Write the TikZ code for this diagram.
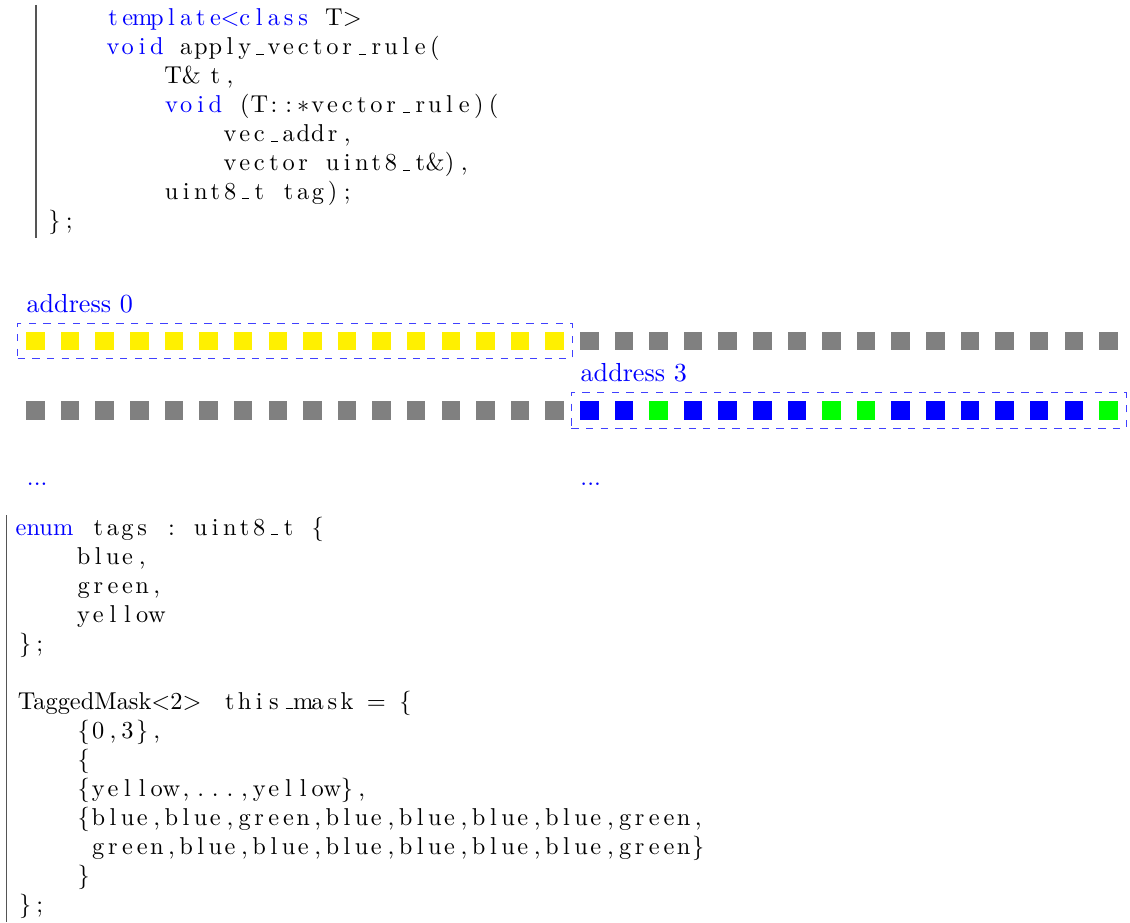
\documentclass[tikz,border=0pt]{standalone}
\usepackage{fontspec}
\usetikzlibrary{fit}

% fixed-column code typesetting: every character sits in a cell of width \cw
\newlength\cw
\setlength\cw{6pt}
\makeatletter
\newcommand\fc[1]{\@tfor\fc@c:=#1\do{\hbox to\cw{\hss\fc@c\hss}}}
\makeatother
\newcommand\cskip[1]{\hskip#1\cw}
\newcommand\nat[2]{\hbox to #1\cw{#2\hss}}
\newcommand\kw[1]{\textcolor{blue}{\fc{#1}}}
% short underscore rule sitting on the baseline
\newcommand\us{\kern.06em\vbox{\hrule width .3em}}

\definecolor{cellyellow}{RGB}{255,240,0}
\definecolor{cellgray}{RGB}{128,128,128}
\definecolor{cellblue}{RGB}{0,0,255}
\definecolor{cellgreen}{RGB}{0,255,0}
\definecolor{barcol}{RGB}{85,85,85}

\tikzset{
  codeline/.style={anchor=base west, inner sep=0pt, outer sep=0pt,
    font=\fontsize{10}{12}\selectfont},
  addrlabel/.style={anchor=base west, inner sep=0pt, text=blue,
    font=\fontsize{10.7}{13}\selectfont},
  dots/.style={anchor=base west, inner sep=0pt, text=blue,
    font=\fontsize{10}{12}\selectfont},
  cell/.style={minimum size=7.6pt, inner sep=0pt, outer sep=0pt, draw=none},
  addrbox/.style={draw=blue!75, dashed, line width=0.4pt, inner sep=3.5pt},
  leftbar/.style={draw=barcol, line width=0.55pt}
}

\begin{document}
\begin{tikzpicture}[x=0.41pt, y=-0.41pt]
\useasboundingbox (0,0) rectangle (1130,922);

% ---------- member function declaration ----------
\coordinate (bar1top) at (36,5);
\coordinate (bar1bot) at (36,238);
\draw[leftbar] (bar1top) -- (bar1bot);

\node[codeline] (d1) at (47.2,26.0)  {\cskip{4}\kw{template<class}\cskip{1}\nat{2}{T>}};
\node[codeline] (d2) at (47.2,54.9)  {\cskip{4}\kw{void}\cskip{1}\fc{apply\us vector\us rule(}};
\node[codeline] (d3) at (47.2,83.8)  {\cskip{8}\nat{2}{T\&}\cskip{1}\fc{t,}};
\node[codeline] (d4) at (47.2,112.7) {\cskip{8}\kw{void}\cskip{1}\fc{(T::{$\ast$}vector\us rule)(}};
\node[codeline] (d5) at (47.2,141.6) {\cskip{12}\fc{vec\us addr,}};
\node[codeline] (d6) at (47.2,170.5) {\cskip{12}\fc{vector}\cskip{1}\fc{uint8\us t\&),}};
\node[codeline] (d7) at (47.2,199.4) {\cskip{8}\fc{uint8\us t}\cskip{1}\fc{tag);}};
\node[codeline] (d8) at (47.2,228.3) {\fc{\};}};

% ---------- memory rows ----------
\foreach \i in {0,...,31} {
  \ifnum\i<16 \def\cc{cellyellow}\else\def\cc{cellgray}\fi
  \node[cell, fill=\cc] (a\i) at ({35.5+34.61*\i},341) {};
}
\foreach \i in {0,...,15} {
  \node[cell, fill=cellgray] (b\i) at ({35.5+34.61*\i},410.5) {};
}
\foreach \cc [count=\j from 16] in {cellblue,cellblue,cellgreen,cellblue,cellblue,cellblue,cellblue,cellgreen,
                                    cellgreen,cellblue,cellblue,cellblue,cellblue,cellblue,cellblue,cellgreen} {
  \node[cell, fill=\cc] (b\j) at ({35.5+34.61*\j},410.5) {};
}

\node[addrbox, fit=(a0)(a15)] (addr0) {};
\node[addrbox, fit=(b16)(b31)] (addr3) {};
\node[addrlabel] (lab0) at (26.2,312.7) {address 0};
\node[addrlabel] (lab3) at (580.2,381.7) {address 3};

\node[dots] (more0) at (26.5,485) {...};
\node[dots] (more3) at (580,485) {...};

% ---------- tags and mask ----------
\coordinate (bar2top) at (6.7,515);
\coordinate (bar2bot) at (6.7,922);
\draw[leftbar] (bar2top) -- (bar2bot);

\node[codeline] (e1)  at (17.8,535) {\nat{4}{\kern-0.85pt\textcolor{blue}{enum}}\cskip{1}\fc{tags}\cskip{1}\fc{:}\cskip{1}\fc{uint8\us t}\cskip{1}\fc{\{}};
\node[codeline] (e2)  at (17.8,564) {\cskip{4}\fc{blue,}};
\node[codeline] (e3)  at (17.8,593) {\cskip{4}\fc{green,}};
\node[codeline] (e4)  at (17.8,622) {\cskip{4}\fc{yellow}};
\node[codeline] (e5)  at (17.8,651) {\fc{\};}};
\node[codeline] (m1)  at (17.8,709) {\nat{13}{TaggedMask<2>}\cskip{1}\fc{this\us mask}\cskip{1}\fc{=}\cskip{1}\fc{\{}};
\node[codeline] (m2)  at (17.8,738) {\cskip{4}\fc{\{0,3\},}};
\node[codeline] (m3)  at (17.8,767) {\cskip{4}\fc{\{}};
\node[codeline] (m4)  at (17.8,796) {\cskip{4}\fc{\{yellow,...,yellow\},}};
\node[codeline] (m5)  at (17.8,825) {\cskip{4}\fc{\{blue,blue,green,blue,blue,blue,blue,green,}};
\node[codeline] (m6)  at (17.8,854) {\cskip{5}\fc{green,blue,blue,blue,blue,blue,blue,green\}}};
\node[codeline] (m7)  at (17.8,883) {\cskip{4}\fc{\}}};
\node[codeline] (m8)  at (17.8,912) {\fc{\};}};
\end{tikzpicture}
\end{document}
